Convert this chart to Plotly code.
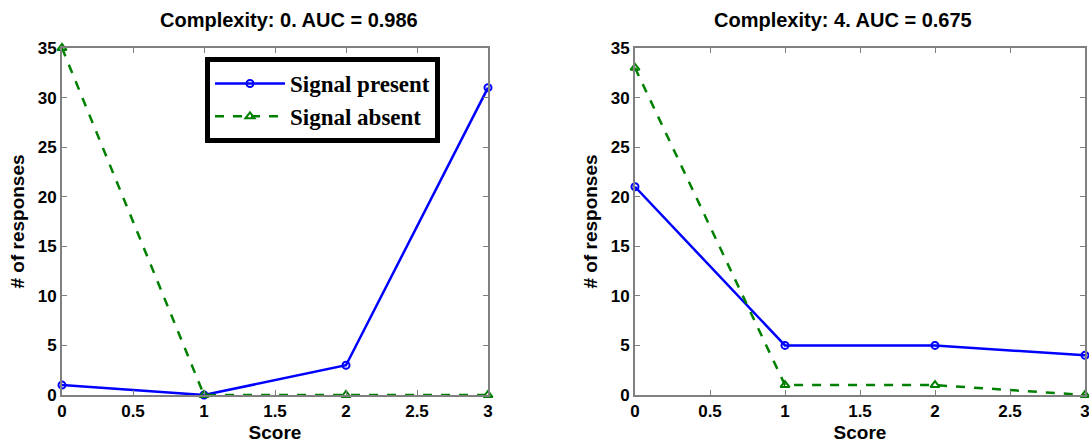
import plotly.graph_objects as go

scores = [0, 1, 2, 3]
left_present = [1, 0, 3, 31]
left_absent = [35, 0, 0, 0]
right_present = [21, 5, 5, 4]
right_absent = [33, 1, 1, 0]
titles = ["Complexity: 0. AUC = 0.986", "Complexity: 4. AUC = 0.675"]
x_ticks = [0, 0.5, 1, 1.5, 2, 2.5, 3]
x_tick_text = ["0", "0.5", "1", "1.5", "2", "2.5", "3"]
y_ticks = [0, 5, 10, 15, 20, 25, 30, 35]

BLUE = "#0000ff"
GREEN = "#008000"
GRAY = "#808080"
SANS = "Liberation Sans"

fig = go.Figure()

def add_pair(present, absent, xa, ya, show):
    fig.add_trace(go.Scatter(x=scores, y=present, mode="lines+markers", name="Signal present",
                             line=dict(color=BLUE, width=2.5),
                             marker=dict(symbol="circle-open", size=7, color=BLUE, line=dict(width=2)),
                             xaxis=xa, yaxis=ya, showlegend=show, cliponaxis=False))
    fig.add_trace(go.Scatter(x=scores, y=absent, mode="lines+markers", name="Signal absent",
                             line=dict(color=GREEN, width=2.5, dash="dash"),
                             marker=dict(symbol="triangle-up-open", size=8, color=GREEN, line=dict(width=2)),
                             xaxis=xa, yaxis=ya, showlegend=show, cliponaxis=False))

add_pair(left_present, left_absent, "x", "y", True)
add_pair(right_present, right_absent, "x2", "y2", False)

W, H = 1089, 443
def px(x): return x / W
def py(y): return (H - y) / H

ydom = [py(395), py(48)]
tickfont = dict(family=SANS, size=17, color="black", weight="bold")
labelfont = dict(family=SANS, size=19, color="black", weight="bold")
titlefont = dict(family=SANS, size=20, color="black", weight="bold")

def xaxis(dom, anchor):
    return dict(domain=dom, anchor=anchor, range=[0, 3], tickvals=x_ticks, ticktext=x_tick_text,
                ticks="inside", ticklen=5, tickcolor=GRAY, tickwidth=1, mirror="ticks",
                showline=True, linecolor=GRAY, linewidth=2, showgrid=False, zeroline=False,
                ticklabeloverflow="allow",
                automargin=False, tickfont=tickfont, title=dict(text="Score", font=labelfont, standoff=5))

def yaxis(anchor):
    return dict(domain=ydom, anchor=anchor, range=[0, 35], tickvals=y_ticks,
                ticks="inside", ticklen=5, tickcolor=GRAY, tickwidth=1, mirror="ticks",
                showline=True, linecolor=GRAY, linewidth=2, showgrid=False, zeroline=False,
                ticklabeloverflow="allow",
                automargin=False, tickfont=tickfont, title=dict(text="# of responses", font=labelfont, standoff=8))

fig.update_layout(
    width=W, height=H, margin=dict(l=0, r=0, t=0, b=0, autoexpand=False),
    plot_bgcolor="white", paper_bgcolor="white",
    xaxis=xaxis([px(62), px(488)], "y"),
    yaxis=yaxis("x"),
    xaxis2=xaxis([px(635), px(1085)], "y2"),
    yaxis2=yaxis("x2"),
    legend=dict(x=px(205), y=py(57), xanchor="left", yanchor="top",
                bgcolor="white", bordercolor="black", borderwidth=5,
                font=dict(family="Liberation Serif", size=23, color="black", weight="bold"),
                tracegroupgap=0, itemwidth=70),
    annotations=[
        dict(text=titles[0], x=px(289), y=py(20), xref="paper", yref="paper",
             showarrow=False, font=titlefont, xanchor="center", yanchor="middle"),
        dict(text=titles[1], x=px(843), y=py(20), xref="paper", yref="paper",
             showarrow=False, font=titlefont, xanchor="center", yanchor="middle"),
    ],
)

fig.write_html("out.html")
